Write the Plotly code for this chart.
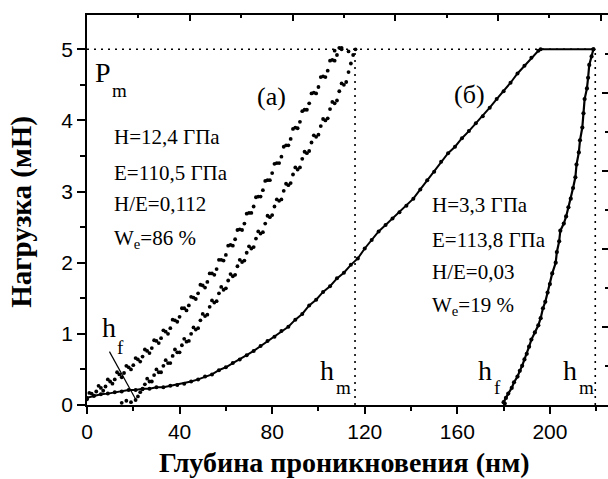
import plotly.graph_objects as go

# ---------------- data ----------------
# (a) loading branch (scattered points of the band)
a_load_x = [0, 2, 4, 6, 8, 10, 12, 14, 16, 18, 20, 22, 24, 26, 28, 30, 32, 34, 36, 38,
            40, 42, 44, 46, 48, 50, 52, 54, 56, 58, 60, 62, 64, 66, 68, 70, 72, 74, 76, 78,
            80, 82, 84, 86, 88, 90, 92, 94, 96, 98, 100, 102, 104, 106, 108, 110,
            1, 3, 5, 7, 9, 11, 13, 15, 17, 19, 21, 23, 25, 27, 29, 31, 33, 35, 37, 39,
            41, 43, 45, 47, 49, 51, 53, 55, 57, 59, 61, 63, 65, 67, 69, 71, 73, 75, 77, 79,
            81, 83, 85, 87, 89, 91, 93, 95, 97, 99, 101, 103, 105, 107, 109]
a_load_y = [0.08, 0.16, 0.19, 0.24, 0.26, 0.33, 0.36, 0.43, 0.45, 0.53, 0.56, 0.64, 0.68, 0.76,
            0.80, 0.90, 0.94, 1.03, 1.08, 1.19, 1.24, 1.36, 1.40, 1.51, 1.57, 1.68, 1.73, 1.85,
            1.91, 2.04, 2.11, 2.25, 2.33, 2.47, 2.55, 2.70, 2.79, 2.93, 3.02, 3.16, 3.26, 3.40,
            3.49, 3.65, 3.74, 3.90, 3.98, 4.15, 4.24, 4.39, 4.47, 4.62, 4.70, 4.85, 4.92, 5.00,
            0.17, 0.13, 0.27, 0.20, 0.36, 0.30, 0.46, 0.39, 0.55, 0.50, 0.66, 0.61, 0.78, 0.73,
            0.91, 0.87, 1.05, 1.00, 1.20, 1.17, 1.36, 1.33, 1.52, 1.49, 1.69, 1.65, 1.85, 1.83,
            2.04, 2.03, 2.24, 2.24, 2.46, 2.46, 2.69, 2.70, 2.92, 2.93, 3.15, 3.16, 3.39, 3.40,
            3.63, 3.65, 3.88, 3.89, 4.13, 4.15, 4.38, 4.38, 4.61, 4.61, 4.84, 4.84, 5.02]

# (a) unloading branch (scattered points of the band)
a_unl_x = [15, 17, 19, 21, 22, 23, 24, 25, 27, 29, 31, 33, 35, 37, 39, 41, 43, 45, 47, 49,
           51, 53, 55, 57, 59, 61, 63, 65, 67, 69, 71, 73, 75, 77, 79, 81, 83, 85, 87, 89,
           91, 93, 95, 97, 99, 101, 103, 105, 107, 109, 111, 113, 114, 115, 116, 107, 110, 113,
           26, 28, 30, 32, 34, 36, 38, 40, 42, 44, 46, 48, 50, 52, 54, 56, 58, 60, 62, 64,
           66, 68, 70, 72, 74, 76, 78, 80, 82, 84, 86, 88, 90, 92, 94, 96, 98, 100, 102, 104,
           106, 108, 110, 112]
a_unl_y = [0.03, 0.06, 0.04, 0.07, 0.12, 0.18, 0.22, 0.29, 0.33, 0.42, 0.46, 0.55, 0.59, 0.69,
           0.74, 0.84, 0.89, 1.00, 1.06, 1.19, 1.25, 1.38, 1.44, 1.57, 1.62, 1.75, 1.81, 1.95,
           2.01, 2.14, 2.20, 2.34, 2.41, 2.55, 2.64, 2.79, 2.87, 3.01, 3.09, 3.24, 3.31, 3.46,
           3.54, 3.69, 3.77, 3.92, 4.00, 4.16, 4.24, 4.41, 4.50, 4.68, 4.80, 4.92, 5.00, 4.98,
           5.02, 4.97,
           0.37, 0.33, 0.50, 0.46, 0.63, 0.59, 0.78, 0.74, 0.93, 0.90, 1.09, 1.08, 1.28, 1.27,
           1.47, 1.46, 1.66, 1.64, 1.84, 1.83, 2.04, 2.03, 2.23, 2.22, 2.44, 2.43, 2.66, 2.67,
           2.89, 2.89, 3.11, 3.12, 3.34, 3.34, 3.56, 3.57, 3.79, 3.80, 4.02, 4.03, 4.26, 4.28,
           4.52, 4.54]

# (б) loading branch + hold at max load
b_load_x = [0, 3, 6, 9, 12, 15, 18, 21, 24, 27, 30, 33, 36, 39, 42, 45, 48, 51, 54, 57, 60,
            63, 66, 69, 72, 75, 78, 81, 84, 87, 90, 93, 96, 99, 102, 105, 108, 111, 114, 117,
            120, 123, 126, 129, 132, 135, 138, 141, 144, 147, 150, 153, 156, 159, 162, 165,
            168, 171, 174, 177, 180, 183, 186, 189, 192, 195, 196, 218.8]
b_load_y = [0.10, 0.13, 0.15, 0.16, 0.18, 0.19, 0.21, 0.21, 0.23, 0.23, 0.25, 0.25, 0.27, 0.28,
            0.30, 0.33, 0.36, 0.40, 0.43, 0.49, 0.53, 0.59, 0.64, 0.70, 0.76, 0.83, 0.90, 0.96,
            1.04, 1.10, 1.20, 1.28, 1.40, 1.48, 1.59, 1.67, 1.78, 1.86, 1.97, 2.06, 2.20, 2.32,
            2.44, 2.53, 2.62, 2.71, 2.80, 2.90, 3.03, 3.16, 3.28, 3.42, 3.54, 3.63, 3.75, 3.85,
            3.96, 4.06, 4.18, 4.30, 4.41, 4.53, 4.66, 4.77, 4.88, 4.98, 5.00, 5.00]

# (б) unloading branch
b_unl_x = [218.8, 218, 217, 216.5, 216, 215, 214.5, 214, 213, 212.5, 211.5, 211, 210, 209,
           208, 207, 206, 204.5, 204, 203, 202.5, 201, 200, 199, 198, 197, 196, 195, 193.5,
           192, 191, 190, 189, 188, 187, 186, 184.5, 183.5, 182, 181, 180, 180.5]
b_unl_y = [5.00, 4.90, 4.78, 4.60, 4.45, 4.30, 4.10, 3.90, 3.72, 3.55, 3.38, 3.20, 3.05, 2.90,
           2.78, 2.65, 2.55, 2.45, 2.30, 2.15, 2.00, 1.85, 1.70, 1.58, 1.45, 1.36, 1.22, 1.12,
           1.02, 0.92, 0.82, 0.72, 0.64, 0.55, 0.48, 0.40, 0.32, 0.24, 0.16, 0.10, 0.04, 0.02]

P_MAX = 5.0       # maximum load, mN
HM_A = 115.8      # max depth, sample (a), nm
HM_B = 219.6      # max depth, sample (б), nm
HF_PTR_X = [9.7, 21.2]   # pointer to h_f on curve (a)
HF_PTR_Y = [0.75, 0.07]

x_ticks = [0, 40, 80, 120, 160, 200]
y_ticks = [0, 1, 2, 3, 4, 5]

stats_a = ["H=12,4 ГПа", "E=110,5 ГПа", "H/E=0,112", "W<sub>e</sub>=86 %"]
stats_b = ["H=3,3 ГПа", "E=113,8 ГПа", "H/E=0,03", "W<sub>e</sub>=19 %"]

# ---------------- figure ----------------
fig = go.Figure()

dot = "2px,5px"
fig.add_trace(go.Scatter(x=[0, HM_B], y=[P_MAX, P_MAX], mode="lines",
                         line=dict(color="black", width=1.6, dash=dot), hoverinfo="skip"))
fig.add_trace(go.Scatter(x=[HM_A, HM_A], y=[0, P_MAX], mode="lines",
                         line=dict(color="black", width=1.6, dash=dot), hoverinfo="skip"))
fig.add_trace(go.Scatter(x=[HM_B, HM_B], y=[0, P_MAX], mode="lines",
                         line=dict(color="black", width=1.6, dash=dot), hoverinfo="skip"))
fig.add_trace(go.Scatter(x=HF_PTR_X, y=HF_PTR_Y, mode="lines",
                         line=dict(color="black", width=1.2), hoverinfo="skip"))

mk = dict(color="black", size=3.8)
fig.add_trace(go.Scatter(x=a_load_x, y=a_load_y, mode="markers", marker=mk, cliponaxis=False))
fig.add_trace(go.Scatter(x=a_unl_x, y=a_unl_y, mode="markers", marker=mk, cliponaxis=False))
fig.add_trace(go.Scatter(x=b_load_x, y=b_load_y, mode="lines+markers",
                         line=dict(color="black", width=2), marker=dict(color="black", size=4),
                         cliponaxis=False))
fig.add_trace(go.Scatter(x=b_unl_x, y=b_unl_y, mode="lines+markers",
                         line=dict(color="black", width=2.2), marker=dict(color="black", size=4.2),
                         cliponaxis=False))

# empty traces so the frame axes (top / right) exist
fig.add_trace(go.Scatter(x=[], y=[], xaxis="x2", yaxis="y", showlegend=False))
fig.add_trace(go.Scatter(x=[], y=[], xaxis="x", yaxis="y2", showlegend=False))

serif = "Liberation Serif, Times New Roman, Times, serif"
sans = "Liberation Sans, Arial, sans-serif"

ann = []
def txt(x, y, s, size, xanchor="center", yanchor="middle", **kw):
    ann.append(dict(x=x, y=y, xref="x", yref="y", text=s, showarrow=False,
                    xanchor=xanchor, yanchor=yanchor,
                    font=dict(family=serif, size=size, color="black"), **kw))

# P_m
txt(6.8, 4.67, "P", 28)
txt(14.2, 4.42, "m", 19)
# panel labels
txt(79.8, 4.33, "(а)", 26)
txt(165.4, 4.36, "(б)", 26)
# stats
for s, yy in zip(stats_a, [3.77, 3.26, 2.82, 2.34]):
    txt(11.0, yy, s, 21, xanchor="left")
for s, yy in zip(stats_b, [2.81, 2.32, 1.87, 1.39]):
    txt(148.0, yy, s, 21, xanchor="left")
# h labels
txt(9.4, 1.09, "h", 28)
txt(14.6, 0.81, "f", 19)
txt(103.6, 0.49, "h", 28)
txt(110.8, 0.25, "m", 19)
txt(172.0, 0.49, "h", 28)
txt(177.4, 0.24, "f", 19)
txt(208.6, 0.49, "h", 28)
txt(216.0, 0.25, "m", 19)

# axis titles
ann.append(dict(x=-0.125, y=0.495, xref="paper", yref="paper", text="Нагрузка (мН)",
                textangle=-90, showarrow=False, xanchor="center", yanchor="middle",
                font=dict(family=serif, size=29, color="black", weight="bold")))
ann.append(dict(x=0.495, y=-0.147, xref="paper", yref="paper",
                text="Глубина проникновения (нм)", showarrow=False,
                xanchor="center", yanchor="middle",
                font=dict(family=serif, size=28, color="black", weight="bold")))

fig.update_layout(
    width=608, height=479,
    margin=dict(l=87, r=0, t=15, b=74, pad=0),
    paper_bgcolor="white", plot_bgcolor="white",
    showlegend=False,
    annotations=ann,
    xaxis=dict(range=[0, 225.1], showline=True, linecolor="black", linewidth=1.5,
               ticks="outside", ticklen=7, tickwidth=1.5, tickcolor="black",
               tickvals=x_ticks, ticktext=[str(v) for v in x_ticks],
               minor=dict(dtick=20, tick0=0, ticks="outside", ticklen=4, tickwidth=1.5,
                          tickcolor="black", showgrid=False),
               showgrid=False, zeroline=False, mirror=False,
               tickfont=dict(family=sans, size=21, color="black")),
    yaxis=dict(range=[0, 5.482], showline=True, linecolor="black", linewidth=1.5,
               ticks="outside", ticklen=8, tickwidth=1.5, tickcolor="black",
               tickvals=y_ticks, ticktext=[str(v) for v in y_ticks],
               minor=dict(dtick=0.5, tick0=0, ticks="outside", ticklen=5, tickwidth=1.5,
                          tickcolor="black", showgrid=False),
               showgrid=False, zeroline=False, mirror=False,
               tickfont=dict(family=sans, size=21, color="black")),
    xaxis2=dict(overlaying="x", side="top", anchor="y", range=[0, 10.14],
                showline=True, linecolor="black", linewidth=1.5,
                ticks="inside", ticklen=6, tickwidth=1.5, tickcolor="black",
                dtick=2, tick0=0, showticklabels=False,
                minor=dict(dtick=1, tick0=0, ticks="inside", ticklen=3, tickwidth=1.5,
                           tickcolor="black", showgrid=False),
                showgrid=False, zeroline=False),
    yaxis2=dict(overlaying="y", side="right", anchor="x", range=[0, 10],
                showline=False, ticks="inside", ticklen=6, tickwidth=1.5, tickcolor="black",
                dtick=2, tick0=0, showticklabels=False,
                minor=dict(dtick=1, tick0=0, ticks="inside", ticklen=3, tickwidth=1.5,
                           tickcolor="black", showgrid=False),
                showgrid=False, zeroline=False),
)

fig.write_html("out.html")
